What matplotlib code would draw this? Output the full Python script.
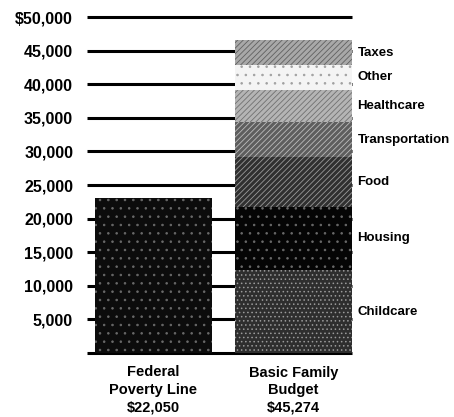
import matplotlib.pyplot as plt
import numpy as np

plt.rcParams['font.family'] = ['Liberation Sans', 'DejaVu Sans']
plt.rcParams['font.weight'] = 'bold'
plt.rcParams['hatch.linewidth'] = 0.6

categories = ['Federal\nPoverty Line\n$22,050', 'Basic Family\nBudget\n$45,274']
poverty_line = 23000
segments = ['Childcare', 'Housing', 'Food', 'Transportation', 'Healthcare', 'Other', 'Taxes']
segment_values = [12350, 9400, 7400, 5200, 4800, 3700, 3700]
segment_colors = ['#2e2e2e', '#050505', '#303030', '#5e5e5e', '#b4b4b4', '#f4f4f4', '#a8a8a8']
hatch_colors = ['#9a9a9a', '#6a6a6a', '#9a9a9a', '#bcbcbc', '#707070', '#a0a0a0', '#606060']
hatches = ['....', '..', '//////', '//////', '//////', '..', '//////']
ticks = [5000, 10000, 15000, 20000, 25000, 30000, 35000, 40000, 45000, 50000]
tick_labels = ['5,000', '10,000', '15,000', '20,000', '25,000', '30,000',
               '35,000', '40,000', '45,000', '$50,000']

fig = plt.figure(figsize=(4.54, 4.17), dpi=100)
ax = fig.add_axes([87 / 454, 1 - 353 / 417, 265 / 454, 336 / 417])

# grid lines behind the bars
ax.hlines([0] + ticks, -0.475, 1.42, color='black', lw=2.2, zorder=0, clip_on=False)

width = 0.84
ax.bar(0, poverty_line, width=width, color='#0c0c0c', hatch='..',
       edgecolor='#6a6a6a', lw=0, zorder=2)

bottom = 0
for name, val, col, hc, h in zip(segments, segment_values, segment_colors,
                                 hatch_colors, hatches):
    ax.bar(1, val, bottom=bottom, width=width, color=col, hatch=h,
           edgecolor=hc, lw=0, zorder=2)
    ax.text(1.46, bottom + val / 2, name, ha='left', va='center',
            fontsize=9.5, fontweight='bold')
    bottom += val

ax.set_xlim(-0.475, 1.42)
ax.set_ylim(0, 50000)
ax.set_yticks(ticks)
ax.set_yticklabels(tick_labels, fontsize=11.5, fontweight='bold')
ax.tick_params(axis='y', length=0, pad=10)
ax.set_xticks([0, 1])
ax.set_xticklabels(categories, fontsize=10.5, fontweight='bold', linespacing=1.3)
ax.tick_params(axis='x', length=0, pad=9)
for s in ax.spines.values():
    s.set_visible(False)
ax.patch.set_visible(False)

fig.savefig('out.png', dpi=100)
